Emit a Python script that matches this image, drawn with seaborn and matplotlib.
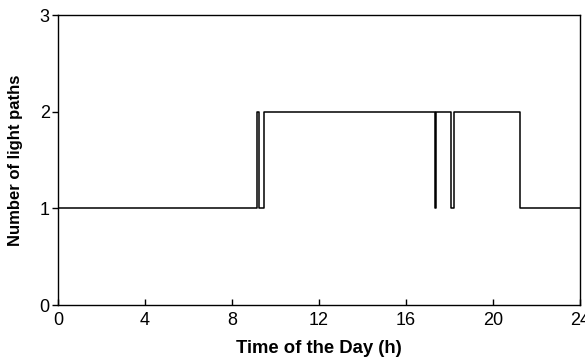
import pandas as pd
import seaborn as sns
import matplotlib.pyplot as plt

# step changes of the number of light paths over the day
hours = [0, 9.17, 9.24, 9.47, 17.32, 17.37, 18.05, 18.2, 21.25, 24]
paths = [1, 2, 1, 2, 1, 2, 1, 2, 1, 1]

xticks = [0, 4, 8, 12, 16, 20, 24]
yticks = [0, 1, 2, 3]

sns.set_style("ticks")
plt.rcParams['font.family'] = ['Liberation Sans', 'DejaVu Sans']
plt.rcParams['text.color'] = 'black'
plt.rcParams['axes.labelcolor'] = 'black'
plt.rcParams['xtick.color'] = 'black'
plt.rcParams['ytick.color'] = 'black'

df = pd.DataFrame({"hour": hours, "paths": paths})

fig = plt.figure(figsize=(5.85, 3.61), dpi=100)
ax = fig.add_axes([0.0991, 0.155, 0.8924, 0.8034])

sns.lineplot(data=df, x="hour", y="paths", drawstyle="steps-post",
             color="black", linewidth=1.1, ax=ax)

ax.set_xlim(0, 24)
ax.set_ylim(0, 3)
ax.set_xticks(xticks)
ax.set_yticks(yticks)
ax.tick_params(axis="x", direction="in", length=4, width=1, labelsize=13, pad=5)
ax.tick_params(axis="y", direction="out", length=4, width=1, labelsize=13, pad=2)
for s in ax.spines.values():
    s.set_linewidth(1)
    s.set_color("black")

ax.set_xlabel("Time of the Day (h)", fontsize=13.3, fontweight="bold", labelpad=8)
ax.set_ylabel("Number of light paths", fontsize=12, fontweight="bold", labelpad=12)

fig.savefig("out.png", dpi=100)
